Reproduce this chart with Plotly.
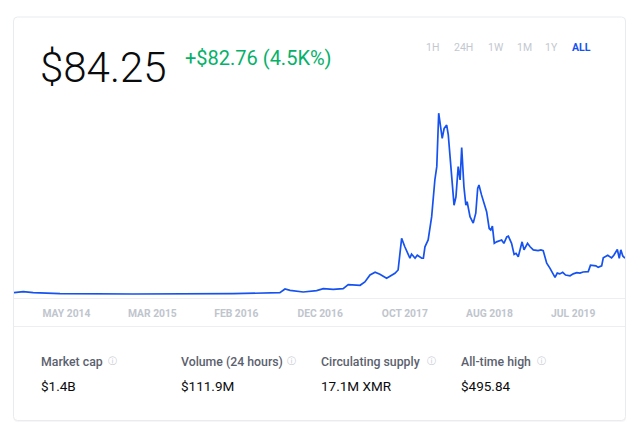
import plotly.graph_objects as go

# Price history (USD)
DATES = [
    "2014-05-21", "2014-06-19", "2014-07-20", "2014-10-12", "2015-05-28", "2016-04-05",
    "2016-08-30", "2016-09-15", "2016-10-01", "2016-11-11", "2016-12-23", "2017-01-13",
    "2017-02-13", "2017-03-16", "2017-04-01", "2017-05-08", "2017-05-23", "2017-06-08",
    "2017-06-24", "2017-07-09", "2017-07-30", "2017-08-10", "2017-08-25", "2017-09-04",
    "2017-09-15", "2017-09-25", "2017-10-11", "2017-10-16", "2017-10-27", "2017-11-03",
    "2017-11-17", "2017-11-22", "2017-11-27", "2017-12-07", "2017-12-18", "2017-12-28",
    "2018-01-03", "2018-01-09", "2018-01-20", "2018-01-26", "2018-02-03", "2018-02-08",
    "2018-02-16", "2018-02-26", "2018-03-04", "2018-03-11", "2018-03-17", "2018-03-22",
    "2018-03-29", "2018-04-04", "2018-04-08", "2018-04-17", "2018-04-27", "2018-05-05",
    "2018-05-11", "2018-05-15", "2018-05-23", "2018-06-03", "2018-06-08", "2018-06-16",
    "2018-06-21", "2018-06-26", "2018-07-02", "2018-07-09", "2018-07-25", "2018-08-01",
    "2018-08-10", "2018-08-15", "2018-08-25", "2018-09-02", "2018-09-08", "2018-09-15",
    "2018-09-27", "2018-10-03", "2018-10-14", "2018-10-22", "2018-11-01", "2018-11-16",
    "2018-11-25", "2018-12-02", "2018-12-13", "2018-12-23", "2019-01-01", "2019-01-08",
    "2019-01-15", "2019-01-23", "2019-02-01", "2019-02-10", "2019-02-24", "2019-03-06",
    "2019-03-17", "2019-03-27", "2019-04-06", "2019-04-22", "2019-04-29", "2019-05-16",
    "2019-05-23", "2019-06-03", "2019-06-08", "2019-06-22", "2019-07-04", "2019-07-11",
    "2019-07-22", "2019-07-28", "2019-08-02", "2019-08-08", "2019-08-15",
]
PRICES = [
    4.7, 7.3, 4.7, 2.1, 1.3, 2.1,
    4.7, 14.4, 11.0, 6.6, 10.0, 15.2,
    13.6, 15.2, 25.7, 24.1, 32.8, 51.1,
    58.2, 52.9, 42.4, 48.5, 55.5, 64.2,
    147, 125, 95, 106, 95, 103,
    95, 95, 125, 143, 204, 300,
    335, 475, 409, 435, 444, 418,
    335, 234, 256, 335, 300, 385,
    282, 234, 243, 204, 187, 213,
    278, 287, 261, 226, 217, 173,
    169, 179, 134, 138, 143, 134,
    151, 153, 134, 105, 108, 99,
    138, 117, 134, 125, 117, 115,
    117, 115, 82, 69, 57, 45,
    56, 54, 58, 51, 49, 54,
    57, 56, 59, 60, 77, 75,
    71, 75, 96, 103, 96, 103,
    118, 95, 117, 101, 95,
]

TICK_DATES = ["2014-11-01", "2015-07-28", "2016-04-16", "2017-01-03",
              "2017-09-25", "2018-06-17", "2019-03-06"]
TICK_LABELS = ["MAY 2014", "MAR 2015", "FEB 2016", "DEC 2016",
               "OCT 2017", "AUG 2018", "JUL 2019"]

RANGES = ["1H", "24H", "1W", "1M", "1Y", "ALL"]
STAT_LABELS = ["Market cap", "Volume (24 hours)", "Circulating supply", "All-time high"]
STAT_VALUES = ["$1.4B", "$111.9M", "17.1M XMR", "$495.84"]

PRICE_TEXT = "$84.25"
CHANGE_TEXT = "+$82.76 (4.5K%)"

BLUE = "#1652f0"
GREEN = "#05b169"
INK = "#0a0b0d"
GRAY = "#5b616e"
LIGHT = "#c3c8d0"
RULE = "#eceef1"

W, H = 640, 440
L, R, T, B = 14, 15, 105, 141          # plot area: x 14..625, y 105..299
PW, PH = W - L - R, H - T - B


def px(x):
    return (x - L) / PW


def py(y):
    return (H - B - y) / PH


def rounded_rect(x0, y0, x1, y1, r=4):
    """SVG path in paper coords for a pixel rect with rounded corners."""
    rx, ry = r / PW, r / PH
    a, b, c, d = px(x0), px(x1), py(y1), py(y0)
    return (f"M{a + rx},{c} L{b - rx},{c} Q{b},{c} {b},{c + ry} "
            f"L{b},{d - ry} Q{b},{d} {b - rx},{d} L{a + rx},{d} "
            f"Q{a},{d} {a},{d - ry} L{a},{c + ry} Q{a},{c} {a + rx},{c} Z")


fig = go.Figure()
fig.add_trace(go.Scatter(x=DATES, y=PRICES, mode="lines",
                         line=dict(color=BLUE, width=1.7), hoverinfo="skip"))

shapes = [
    dict(type="path", path=rounded_rect(13.5, 18, 626, 422), xref="paper", yref="paper",
         fillcolor="rgba(0,0,0,0.035)", line=dict(width=0), layer="below"),
    dict(type="path", path=rounded_rect(13.5, 17, 625.5, 420.5), xref="paper", yref="paper",
         fillcolor="white", line=dict(color="#e9ebee", width=1), layer="below"),
]
for y in (298.5, 326.5):
    shapes.append(dict(type="line", xref="paper", yref="paper", x0=px(14), x1=px(625),
                       y0=py(y), y1=py(y), line=dict(color=RULE, width=1)))

ann = [
    dict(text=PRICE_TEXT, x=px(38), y=py(67), xanchor="left", yanchor="middle",
         font=dict(family="Roboto", size=42, color=INK, weight=300)),
    dict(text=CHANGE_TEXT, x=px(182.5), y=py(58.5), xanchor="left", yanchor="middle",
         font=dict(family="Roboto", size=20, color=GREEN)),
]
range_x = [432, 463.7, 495.7, 524, 551, 581.5]
for label, x in zip(RANGES, range_x):
    active = label == "ALL"
    ann.append(dict(text=f"<b>{label}</b>" if active else label, x=px(x), y=py(48),
                    xanchor="center", yanchor="middle",
                    font=dict(family="Roboto", size=10.5, color=BLUE if active else LIGHT)))
stat_x = [40, 180, 320, 460]
icon_x = [112.3, 291.7, 431.8, 541.3]
for label, value, x, ix in zip(STAT_LABELS, STAT_VALUES, stat_x, icon_x):
    ann.append(dict(text=label, x=px(x - 1.5), y=py(361.5), xanchor="left", yanchor="middle",
                    font=dict(family="Roboto", size=12.3, color=GRAY, weight=500)))
    ann.append(dict(text="ⓘ", x=px(ix), y=py(361), xanchor="center", yanchor="middle",
                    font=dict(family="DejaVu Sans", size=9, color=LIGHT)))
    ann.append(dict(text=value, x=px(x - 1.5), y=py(385.5), xanchor="left", yanchor="middle",
                    font=dict(family="Roboto", size=13.5, color=INK)))
for a in ann:
    a.update(xref="paper", yref="paper", showarrow=False)

fig.update_layout(
    width=W, height=H,
    margin=dict(l=L, r=R, t=T, b=B, pad=0),
    paper_bgcolor="white", plot_bgcolor="rgba(0,0,0,0)",
    showlegend=False,
    shapes=shapes, annotations=ann,
    font=dict(family="Roboto"),
)
fig.update_xaxes(type="date", range=["2014-05-21", "2019-08-15"],
                 showgrid=False, zeroline=False, showline=False, ticks="",
                 tickmode="array", tickvals=TICK_DATES, ticktext=TICK_LABELS,
                 tickfont=dict(family="Roboto", size=10.3, color="#c0c5cd", weight=700),
                 ticklabelstandoff=7, fixedrange=True)
fig.update_yaxes(range=[-11.8, 496.5], visible=False, fixedrange=True)

fig.write_html("out.html", config={"displayModeBar": False},
               post_script="document.body.style.margin='0';")
